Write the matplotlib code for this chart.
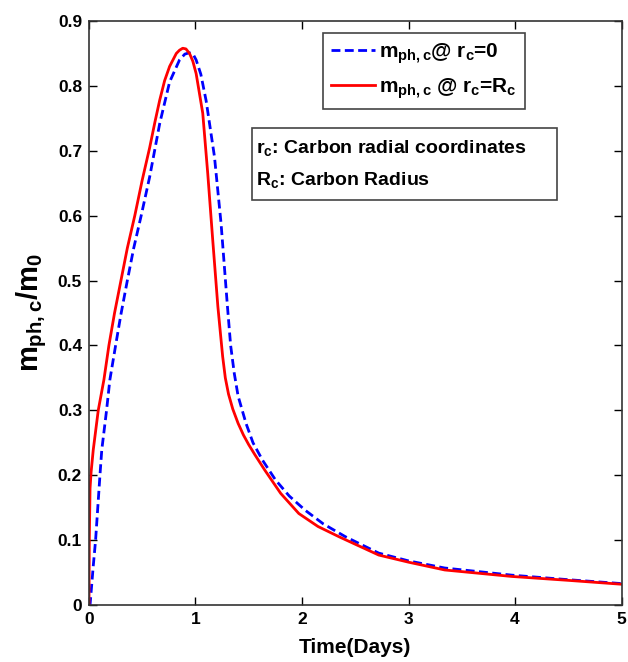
import matplotlib
matplotlib.use("Agg")
import matplotlib.pyplot as plt
from matplotlib.patches import Rectangle

plt.rcParams['font.family'] = ['Liberation Sans', 'DejaVu Sans']
plt.rcParams['font.weight'] = 'bold'
plt.rcParams['mathtext.fontset'] = 'custom'
plt.rcParams['mathtext.rm'] = 'Liberation Sans:bold'
plt.rcParams['mathtext.it'] = 'Liberation Sans:bold'
plt.rcParams['mathtext.bf'] = 'Liberation Sans:bold'

# Blue dashed: m_ph,c at r_c = 0
t_center = [0.0, 0.01, 0.019, 0.04, 0.062, 0.103, 0.12, 0.165, 0.196, 0.25, 0.30, 0.36,
            0.42, 0.49, 0.57, 0.664, 0.757, 0.85, 0.90, 0.944, 0.98, 1.006, 1.05, 1.10,
            1.178, 1.24, 1.30, 1.33, 1.364, 1.40, 1.474, 1.54, 1.63, 1.75, 1.88, 2.03,
            2.2, 2.41, 2.72, 3.0, 3.34, 3.97, 4.5, 5.0]
m_center = [0.0, 0.0, 0.018, 0.06, 0.10, 0.20, 0.239, 0.30, 0.347, 0.40, 0.448, 0.50,
            0.55, 0.60, 0.66, 0.742, 0.806, 0.840, 0.849, 0.851, 0.848, 0.840, 0.818, 0.777,
            0.691, 0.588, 0.46, 0.40, 0.357, 0.322, 0.28, 0.25, 0.223, 0.193, 0.168, 0.146,
            0.125, 0.105, 0.080, 0.068, 0.057, 0.046, 0.039, 0.033]

# Red solid: m_ph,c at r_c = R_c
t_surface = [0.0, 0.003, 0.01, 0.02, 0.04, 0.087, 0.14, 0.187, 0.24, 0.30, 0.36, 0.43,
             0.50, 0.57, 0.62, 0.664, 0.71, 0.757, 0.82, 0.85, 0.88, 0.91, 0.944, 0.975,
             1.006, 1.068, 1.115, 1.162, 1.21, 1.255, 1.28, 1.31, 1.35, 1.40, 1.45, 1.50,
             1.56, 1.65, 1.8, 1.97, 2.15, 2.35, 2.72, 3.0, 3.34, 3.97, 4.5, 5.0]
m_surface = [0.0, 0.1, 0.18, 0.205, 0.239, 0.30, 0.347, 0.40, 0.45, 0.50, 0.55, 0.60,
             0.655, 0.705, 0.745, 0.778, 0.808, 0.830, 0.850, 0.855, 0.858, 0.857, 0.850,
             0.838, 0.819, 0.758, 0.665, 0.562, 0.46, 0.383, 0.35, 0.325, 0.302, 0.28,
             0.262, 0.247, 0.231, 0.208, 0.172, 0.141, 0.121, 0.105, 0.077, 0.066, 0.054,
             0.044, 0.038, 0.032]

x_ticks = [0, 1, 2, 3, 4, 5]
y_ticks = [0, 0.1, 0.2, 0.3, 0.4, 0.5, 0.6, 0.7, 0.8, 0.9]
y_ticklabels = ['0', '0.1', '0.2', '0.3', '0.4', '0.5', '0.6', '0.7', '0.8', '0.9']

fig = plt.figure(figsize=(6.28, 6.62), dpi=100)
ax = fig.add_axes([0.1417, 0.0861, 0.848, 0.8822])

ax.plot(t_center, m_center, color=(0, 0, 1), linestyle=(0, (3.2, 1.6)), linewidth=2,
        label=r'$m_{ph,c}$@ $r_c$=0')
ax.plot(t_surface, m_surface, color=(1, 0, 0), linestyle='-', linewidth=2,
        label=r'$m_{ph,c}$ @ $r_c$=$R_c$')

ax.set_xlim(0, 5)
ax.set_ylim(0, 0.9)
ax.set_xticks(x_ticks)
ax.set_xticklabels([str(v) for v in x_ticks])
ax.set_yticks(y_ticks)
ax.set_yticklabels(y_ticklabels)
ax.tick_params(direction='in', top=True, right=True, length=6, width=1,
               labelsize=12.5, pad=5)
for lab in ax.get_xticklabels() + ax.get_yticklabels():
    lab.set_fontweight('bold')
for s in ax.spines.values():
    s.set_linewidth(1.2)
    s.set_color('#333333')

ax.set_xlabel('Time(Days)', fontsize=15, fontweight='bold', labelpad=8)
ax.set_ylabel(r'$m_{ph,c}/m_0$', fontsize=21, labelpad=6)

leg = ax.legend(loc='upper left', bbox_to_anchor=(0.42, 0.997), fontsize=15,
                frameon=True, fancybox=False, edgecolor='#444444', framealpha=1,
                handlelength=2.1, handletextpad=0.2, borderpad=0.4, labelspacing=0.5)
leg.get_frame().set_linewidth(1.2)

ax.add_patch(Rectangle((0.3065, 0.693), 0.572, 0.124, transform=ax.transAxes,
                       fill=False, edgecolor='#444444', linewidth=1.2))
ax.text(0.314, 0.782, r'$r_c$: Carbon radial coordinates', transform=ax.transAxes,
        fontsize=14, fontweight='bold', va='center', ha='left')
ax.text(0.314, 0.727, r'$R_c$: Carbon Radius', transform=ax.transAxes,
        fontsize=14, fontweight='bold', va='center', ha='left')

fig.savefig('out.png', dpi=100)
